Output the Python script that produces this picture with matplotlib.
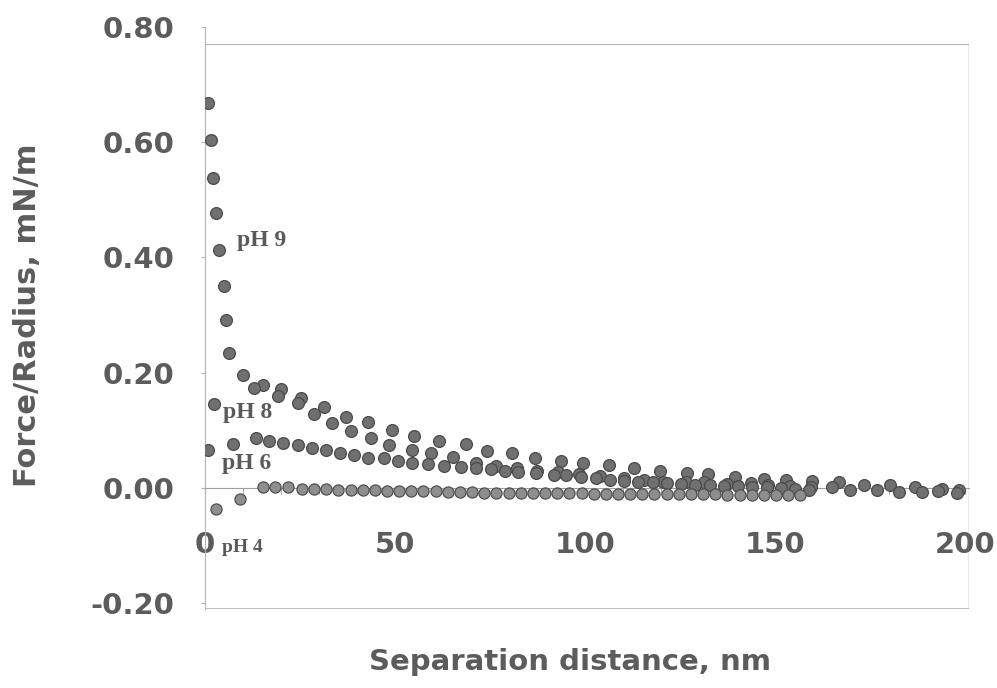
import numpy as np
import matplotlib as mpl
mpl.use('Agg')
from matplotlib import pyplot as plt

# x in nm, y in mN/m
ph9_x = [0.8, 1.6, 2.0, 2.9, 3.7, 5.0, 5.5, 6.3, 10.0, 15.3, 20.1, 25.3, 31.4, 37.2,
         43.0, 49.3, 54.9, 61.5, 68.6, 74.1, 80.7, 86.8, 93.7, 99.5, 106.3, 112.9,
         119.8, 126.9, 132.5, 139.6, 147.0, 153.0, 159.8, 166.8, 173.4, 180.2, 186.8,
         193.9, 198.4]
ph9_y = [0.668, 0.604, 0.538, 0.477, 0.413, 0.350, 0.291, 0.234, 0.196, 0.179, 0.172,
         0.156, 0.140, 0.123, 0.114, 0.101, 0.090, 0.082, 0.076, 0.064, 0.061, 0.052,
         0.047, 0.043, 0.040, 0.035, 0.030, 0.026, 0.024, 0.019, 0.016, 0.014, 0.012,
         0.010, 0.006, 0.005, 0.002, -0.001, -0.004]

ph8_x = [2.5, 12.9, 19.3, 24.5, 28.8, 33.5, 38.5, 43.8, 48.5, 54.4, 59.4, 65.2, 71.2,
         76.5, 82.0, 87.5, 93.0, 98.5, 104.0, 110.3, 115.6, 120.6, 126.5, 131.4, 137.5,
         143.8, 148.3, 154.0, 159.5, 165.0, 169.7, 176.8, 182.6, 188.7, 193.0, 198.0]
ph8_y = [0.145, 0.173, 0.160, 0.147, 0.128, 0.113, 0.099, 0.087, 0.075, 0.066, 0.061,
         0.054, 0.043, 0.038, 0.034, 0.030, 0.027, 0.024, 0.020, 0.017, 0.014, 0.010,
         0.010, 0.010, 0.007, 0.009, 0.005, 0.003, 0.002, 0.001, -0.003, -0.003,
         -0.007, -0.007, -0.006, -0.008]

ph6_x = [0.8, 7.4, 13.5, 16.9, 20.6, 24.5, 28.2, 31.9, 35.6, 39.3, 43.0, 47.0, 50.9,
         54.6, 58.8, 62.8, 67.3, 71.2, 75.2, 78.9, 82.3, 87.1, 91.8, 95.0, 98.9, 102.9,
         106.5, 110.3, 114.0, 117.8, 121.5, 125.3, 129.0, 132.8, 136.5, 140.3, 144.0,
         147.8, 151.5, 155.3, 159.0]
ph6_y = [0.066, 0.076, 0.087, 0.082, 0.078, 0.075, 0.069, 0.066, 0.061, 0.057, 0.052,
         0.052, 0.047, 0.043, 0.042, 0.038, 0.036, 0.035, 0.033, 0.029, 0.028, 0.026,
         0.023, 0.022, 0.019, 0.017, 0.014, 0.013, 0.011, 0.010, 0.008, 0.007, 0.006,
         0.005, 0.004, 0.003, 0.002, 0.001, 0.000, -0.002, -0.003]

ph4_x = [2.9, 9.2, 15.3, 18.5, 21.9, 25.5, 28.7, 31.9, 35.1, 38.3, 41.5, 44.7, 47.9,
         51.1, 54.3, 57.5, 60.7, 63.9, 67.1, 70.3, 73.5, 76.7, 79.9, 83.1, 86.3, 89.5,
         92.7, 95.9, 99.1, 102.3, 105.5, 108.7, 111.9, 115.1, 118.3, 121.5, 124.7,
         127.9, 131.1, 134.3, 137.5, 140.7, 143.9, 147.1, 150.3, 153.5, 156.7]
ph4_y = [-0.036, -0.019, 0.002, 0.002, 0.002, -0.001, -0.002, -0.002, -0.003, -0.003,
         -0.004, -0.004, -0.005, -0.005, -0.006, -0.006, -0.006, -0.007, -0.007, -0.007,
         -0.008, -0.008, -0.008, -0.008, -0.009, -0.009, -0.009, -0.009, -0.009, -0.010,
         -0.010, -0.010, -0.010, -0.010, -0.011, -0.011, -0.011, -0.011, -0.011, -0.011,
         -0.012, -0.012, -0.012, -0.012, -0.012, -0.012, -0.012]

x_ticks = [0, 50, 100, 150, 200]
y_ticks = [-0.20, 0.00, 0.20, 0.40, 0.60, 0.80]


def main():
    txt = '#5c5c5c'
    frame = '#b4b4b4'
    fig = plt.figure(figsize=(9.97, 6.88), dpi=100)
    ax = fig.add_axes([0.2056, 0.1148, 0.766, 0.846])
    ax.set_xlim(0, 201)
    ax.set_ylim(-0.21, 0.80)

    # data dots
    for xs, ys in [(ph9_x, ph9_y), (ph8_x, ph8_y), (ph6_x, ph6_y)]:
        ax.plot(xs, ys, 'o', ms=8.5, mfc='#707070', mec='#4a4a4a', mew=0.9, zorder=3)
    ax.plot(ph4_x, ph4_y, 'o', ms=8.0, mfc='#8e8e8e', mec='#505050', mew=0.9, zorder=3)

    # frame like the scanned Excel chart
    for s in ['top', 'right']:
        ax.spines[s].set_visible(False)
    ax.spines['left'].set_color(frame)
    ax.spines['left'].set_linewidth(0.8)
    ax.spines['bottom'].set_position(('data', 0))
    ax.spines['bottom'].set_color('#a0a0a0')
    ax.spines['bottom'].set_linewidth(0.8)
    top = 0.77
    ymax = (top - ax.get_ylim()[0]) / (ax.get_ylim()[1] - ax.get_ylim()[0])
    ax.axhline(top, color=frame, lw=0.8)
    ax.axhline(ax.get_ylim()[0], color=frame, lw=1.2)
    ax.axvline(ax.get_xlim()[1], ymin=0, ymax=ymax, color='#909090', lw=1.0)

    ax.set_xticks(x_ticks)
    ax.set_xticks(np.arange(0, 201, 10), minor=True)
    ax.set_xticklabels([str(v) for v in x_ticks])
    ax.set_yticks(y_ticks)
    ax.set_yticklabels(['%.2f' % v for v in y_ticks])
    ax.tick_params(axis='x', which='both', direction='out', length=4, color='#909090',
                   pad=27, labelsize=21, labelcolor=txt)
    ax.tick_params(axis='y', direction='out', length=3, color=frame,
                   pad=19, labelsize=21, labelcolor=txt)
    for lab in ax.get_xticklabels() + ax.get_yticklabels():
        lab.set_fontweight('bold')

    ax.set_ylabel('Force/Radius, mN/m', fontsize=22, fontweight='bold', color=txt)
    ax.yaxis.set_label_coords(-0.213, 0.505)
    fig.text(0.572, 0.038, 'Separation distance, nm', fontsize=21, fontweight='bold',
             color=txt, ha='center', va='center')

    serif = dict(family='Liberation Serif', fontweight='bold', color='#5a5a5a')
    ax.text(8.4, 0.43, 'pH 9', fontsize=17, va='center', **serif)
    ax.text(4.7, 0.131, 'pH 8', fontsize=17, va='center', **serif)
    ax.text(4.5, 0.043, 'pH 6', fontsize=17, va='center', **serif)
    ax.text(4.5, -0.104, 'pH 4', fontsize=14, va='center', **serif)

    fig.savefig('out.png', dpi=100, facecolor='white')


if __name__ == '__main__':
    main()
